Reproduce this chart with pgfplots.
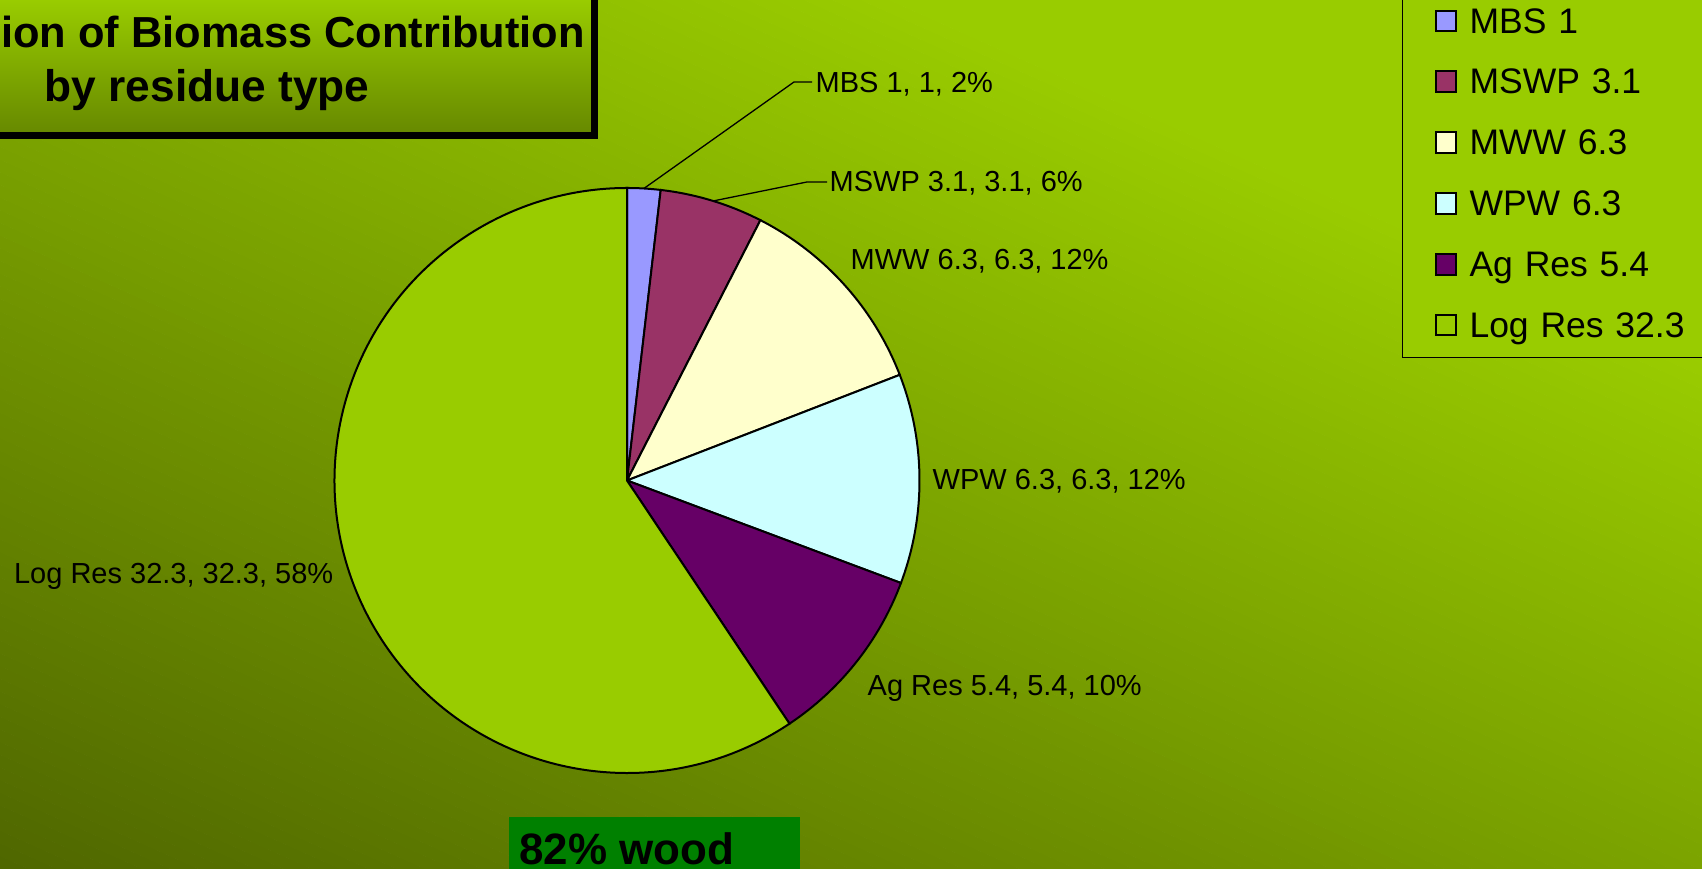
\documentclass[border=0pt]{standalone}
\usepackage{pgfplots}
\pgfplotsset{compat=1.18}
\usepackage{pgfplotstable}
\usepackage{fontspec}
\setmainfont{Liberation Sans}

\definecolor{cMBS}{HTML}{9999FF}
\definecolor{cMSWP}{HTML}{993366}
\definecolor{cMWW}{HTML}{FFFFCC}
\definecolor{cWPW}{HTML}{CCFFFF}
\definecolor{cAg}{HTML}{660066}
\definecolor{cLog}{HTML}{99CC00}
\definecolor{bgDark}{HTML}{4F6600}
\definecolor{bgBright}{HTML}{99CC00}
\definecolor{titleDark}{HTML}{668800}
\definecolor{woodGreen}{HTML}{008000}

\pgfplotstableread{
name value
MBS 1
MSWP 3.1
MWW 6.3
WPW 6.3
AgRes 5.4
LogRes 32.3
}\piedata

\newcommand\lblfont{\fontsize{8.25pt}{10pt}\selectfont}

\pgfplotstablegetelem{0}{value}\of\piedata \let\vA\pgfplotsretval
\pgfplotstablegetelem{1}{value}\of\piedata \let\vB\pgfplotsretval
\pgfplotstablegetelem{2}{value}\of\piedata \let\vC\pgfplotsretval
\pgfplotstablegetelem{3}{value}\of\piedata \let\vD\pgfplotsretval
\pgfplotstablegetelem{4}{value}\of\piedata \let\vE\pgfplotsretval
\pgfplotstablegetelem{5}{value}\of\piedata \let\vF\pgfplotsretval
\pgfmathsetmacro\total{\vA+\vB+\vC+\vD+\vE+\vF}
\pgfmathsetmacro\aO{90}
\pgfmathsetmacro\aA{\aO-360*\vA/\total}
\pgfmathsetmacro\aB{\aA-360*\vB/\total}
\pgfmathsetmacro\aC{\aB-360*\vC/\total}
\pgfmathsetmacro\aD{\aC-360*\vD/\total}
\pgfmathsetmacro\aE{\aD-360*\vE/\total}
\pgfmathsetmacro\aF{\aE-360*\vF/\total}
\def\R{29.25mm}

\begin{document}%
\begin{tikzpicture}
\useasboundingbox (0,0) rectangle (170.2mm,86.9mm);
\begin{pgfinterruptboundingbox}
\begin{scope}
\clip (0,0) rectangle (170.2mm,86.9mm);
% background gradient (dark bottom-left to bright top-right)
\begin{scope}[rotate=-24.1]
  \fill[bgDark] (-60mm,-80mm) rectangle (200mm,0.05mm);
  \foreach \i in {0,...,99} {
    \pgfmathsetmacro\p{\i+0.5}
    \fill[bgBright!\p!bgDark] (-60mm,{\i*1.156mm}) rectangle (200mm,{(\i+1)*1.156mm+0.05mm});
  }
  \fill[bgBright] (-60mm,115.6mm) rectangle (200mm,220mm);
\end{scope}
% title box
\shade[top color=bgBright, bottom color=titleDark] (-5mm,73.32mm) rectangle (59.42mm,86.9mm);
\draw[line width=0.7mm] (-5mm,73.32mm) rectangle (59.42mm,95mm);
\node[anchor=base west, inner sep=0pt, font=\bfseries\fontsize{12.35pt}{15pt}\selectfont] at (0.05mm,82.13mm) {ion of Biomass Contribution};
\node[anchor=base west, inner sep=0pt, font=\bfseries\fontsize{12.6pt}{15pt}\selectfont] at (4.4mm,76.75mm) {by residue type};

\begin{axis}[
  x=0.1mm, y=0.1mm, xmin=0, xmax=1702, ymin=0, ymax=869,
  scale only axis, hide axis, clip=false,
  anchor=south west, at={(0,0)},
  legend cell align=left,
  legend image code/.code={\path (0mm,0mm); \draw[#1, line width=0.2mm] (1.86mm,-0.63mm) rectangle (3.93mm,1.44mm);},
  legend style={at={(axis cs:1401.7,510.7)}, anchor=south west,
    draw=black, line width=0.12mm, fill=cLog,
    inner xsep=1.4mm, inner ysep=1.16mm, row sep=2.68mm,
    font=\fontsize{10.1pt}{12pt}\selectfont,
    nodes={inner sep=0pt, text height=2.5mm, text depth=0.9mm, text width=22mm, align=left},
    /tikz/every odd column/.append style={column sep=1.23mm}},
]
\begin{scope}[shift={(axis cs:627,388.5)}, line width=0.2mm, draw=black]
\filldraw[fill=cMBS]  (0,0) -- (\aO:\R) arc[start angle=\aO, end angle=\aA, radius=\R] -- cycle;
\filldraw[fill=cMSWP] (0,0) -- (\aA:\R) arc[start angle=\aA, end angle=\aB, radius=\R] -- cycle;
\filldraw[fill=cMWW]  (0,0) -- (\aB:\R) arc[start angle=\aB, end angle=\aC, radius=\R] -- cycle;
\filldraw[fill=cWPW]  (0,0) -- (\aC:\R) arc[start angle=\aC, end angle=\aD, radius=\R] -- cycle;
\filldraw[fill=cAg]   (0,0) -- (\aD:\R) arc[start angle=\aD, end angle=\aE, radius=\R] -- cycle;
\filldraw[fill=cLog]  (0,0) -- (\aE:\R) arc[start angle=\aE, end angle=\aF, radius=\R] -- cycle;
\end{scope}
% leader lines
\draw[line width=0.13mm] (axis cs:643.9,680.5) -- (axis cs:794,787) -- (axis cs:812,787);
\draw[line width=0.13mm] (axis cs:713,668) -- (axis cs:807,687) -- (axis cs:827,687);
% data labels
\node[anchor=base west, inner sep=0pt, font=\lblfont] at (axis cs:815,776.5) {MBS 1, 1, 2\%};
\node[anchor=base west, inner sep=0pt, font=\lblfont] at (axis cs:829,677) {MSWP 3.1, 3.1, 6\%};
\node[anchor=base west, inner sep=0pt, font=\lblfont] at (axis cs:850,599.7) {MWW 6.3, 6.3, 12\%};
\node[anchor=base west, inner sep=0pt, font=\lblfont] at (axis cs:932,379.7) {WPW 6.3, 6.3, 12\%};
\node[anchor=base west, inner sep=0pt, font=\lblfont] at (axis cs:867,173.5) {Ag Res 5.4, 5.4, 10\%};
\node[anchor=base east, inner sep=0pt, font=\lblfont] at (axis cs:334,285.7) {Log Res 32.3, 32.3, 58\%};
% legend
\addlegendimage{fill=cMBS, draw=black}
\addlegendentry{MBS 1}
\addlegendimage{fill=cMSWP, draw=black}
\addlegendentry{MSWP 3.1}
\addlegendimage{fill=cMWW, draw=black}
\addlegendentry{MWW 6.3}
\addlegendimage{fill=cWPW, draw=black}
\addlegendentry{WPW 6.3}
\addlegendimage{fill=cAg, draw=black}
\addlegendentry{Ag Res 5.4}
\addlegendimage{fill=cLog, draw=black}
\addlegendentry{Log Res 32.3}
\end{axis}

% 82% wood box
\fill[woodGreen] (50.93mm,-2mm) rectangle (80.0mm,5.23mm);
\node[anchor=base west, inner sep=0pt, font=\bfseries\fontsize{12.5pt}{15pt}\selectfont] at (51.85mm,0.4mm) {82\% wood};
\end{scope}
\end{pgfinterruptboundingbox}
\end{tikzpicture}%
\end{document}
